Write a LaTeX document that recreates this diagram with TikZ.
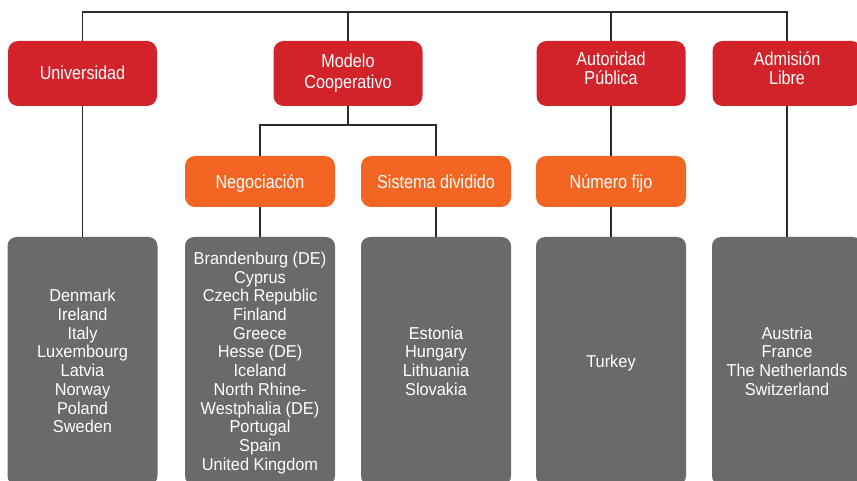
\documentclass[tikz,border=0pt]{standalone}
\usepackage{fontspec}
\setmainfont{Liberation Sans}[FakeStretch=0.95]
\newfontfamily\headfont{Liberation Sans}[FakeStretch=0.86]
\definecolor{cred}{HTML}{D2232A}
\definecolor{corange}{HTML}{F26522}
\definecolor{cgray}{HTML}{6A6A6C}
\definecolor{cline}{HTML}{2B2B2B}
% struts fixing first-line height and last-line depth
\newcommand\sT[1]{\rule{0pt}{#1}}
\newcommand\sB[1]{\rule[-#1]{0pt}{#1}}
\begin{document}
\begin{tikzpicture}[x=1pt,y=-1pt,
  base/.style={text=white,align=center,inner sep=0pt,anchor=center},
  redbox/.style={base,fill=cred,rounded corners=10pt,minimum width=149pt,minimum height=65pt,
    font=\headfont\fontsize{18.8}{21}\selectfont},
  orangebox/.style={base,fill=corange,rounded corners=10pt,minimum width=150pt,minimum height=51pt,
    font=\headfont\fontsize{18.8}{21}\selectfont,text height=15pt,text depth=1.4pt},
  graybox/.style={base,fill=cgray,rounded corners=9pt,minimum width=150pt,minimum height=248pt,
    font=\fontsize{17.2}{18.7}\selectfont},
  conn/.style={draw=cline,line width=1.3pt}]
\useasboundingbox (0,0) rectangle (857,481);
\clip (0,0) rectangle (857,481);
\coordinate (t) at (0,12);
\coordinate (s) at (0,125);
% top level
\node[redbox,text height=14pt,text depth=2.4pt] (uni) at (82.5,73.5) {Universidad};
\node[redbox] (mod) at (348,73.5) {\sT{16pt}Modelo\\Cooperativo\sB{7.4pt}};
\node[redbox,font=\headfont\fontsize{18.8}{18.6}\selectfont] (aut) at (611,73.5) {\sT{15pt}Autoridad\\Pública\sB{12pt}};
\node[redbox,font=\headfont\fontsize{18.8}{18.6}\selectfont] (adm) at (787,73.5) {\sT{15pt}Admisión\\Libre\sB{12pt}};
% second level
\node[orangebox] (neg) at (260,181.5) {Negociación};
\node[orangebox] (sis) at (436,181.5) {Sistema dividido};
\node[orangebox] (num) at (611,181.5) {Número fijo};
% lists
\node[graybox] (g1) at (82.5,361) {\sT{17.1pt}Denmark\\Ireland\\Italy\\Luxembourg\\Latvia\\Norway\\Poland\\Sweden\sB{4.5pt}};
\node[graybox] (g2) at (260,361) {\sT{17.1pt}Brandenburg (DE)\\Cyprus\\Czech Republic\\Finland\\Greece\\Hesse (DE)\\Iceland\\North Rhine-\\Westphalia (DE)\\Portugal\\Spain\\United Kingdom\sB{4.5pt}};
\node[graybox] (g3) at (436,361) {\sT{17.1pt}Estonia\\Hungary\\Lithuania\\Slovakia\sB{4.5pt}};
\node[graybox] (g4) at (611,361) {\sT{17.1pt}Turkey\sB{4.5pt}};
\node[graybox] (g5) at (787,361) {\sT{17.1pt}Austria\\France\\The Netherlands\\Switzerland\sB{4.5pt}};
% connectors
\draw[conn] (uni.north) |- (t -| adm.north) -- (adm.north);
\draw[conn] (mod.north) -- (mod.north |- t);
\draw[conn] (aut.north) -- (aut.north |- t);
\draw[conn] (mod.south) -- (mod.south |- s);
\draw[conn] (neg.north) |- (s -| sis.north) -- (sis.north);
\draw[conn] (uni.south) -- (g1.north);
\draw[conn] (neg.south) -- (g2.north);
\draw[conn] (sis.south) -- (g3.north);
\draw[conn] (aut.south) -- (num.north);
\draw[conn] (num.south) -- (g4.north);
\draw[conn] (adm.south) -- (g5.north);
\end{tikzpicture}
\end{document}
